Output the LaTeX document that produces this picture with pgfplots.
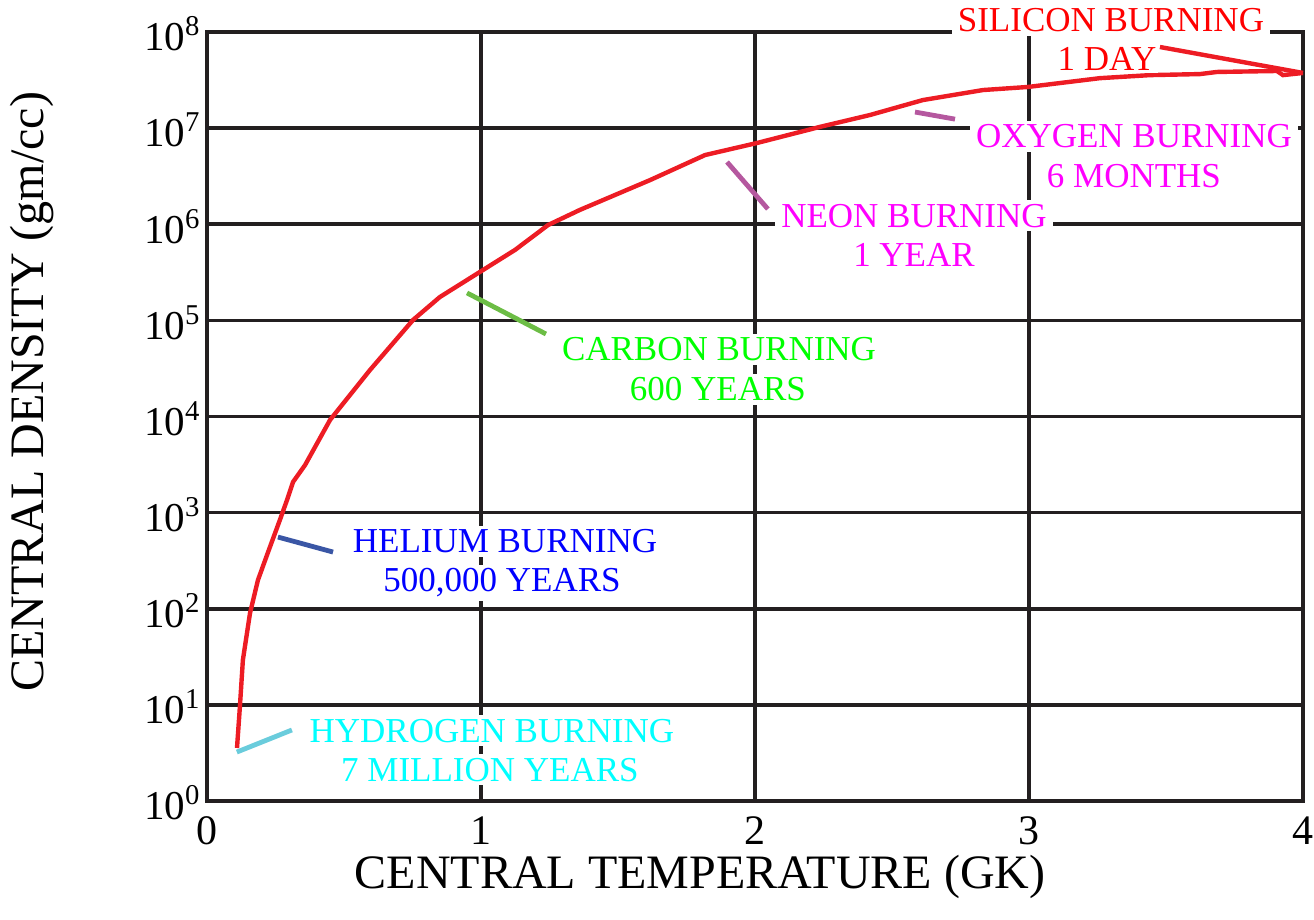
\documentclass[border=0pt]{standalone}
\usepackage{pgfplots}
\pgfplotsset{compat=1.18}
\usepackage{fontspec}
\setmainfont{Liberation Serif}
\definecolor{gridc}{HTML}{231F20}
\definecolor{curvered}{HTML}{ED1C24}
\definecolor{hyd}{HTML}{6ACCDC}
\definecolor{hel}{HTML}{3A56A5}
\definecolor{carb}{HTML}{6CBD45}
\definecolor{neon}{HTML}{B5589F}
\definecolor{txtred}{HTML}{FF0000}
\definecolor{txtmag}{HTML}{FF00FF}
\definecolor{txtgreen}{HTML}{00FF00}
\definecolor{txtblue}{HTML}{0000FF}
\definecolor{txtcyan}{HTML}{00FFFF}
\tikzset{ann/.style={fill=white, inner xsep=3pt, inner ysep=2pt, anchor=base, font=\fontsize{17.5}{18}\selectfont}}
\begin{document}
\begin{tikzpicture}
\begin{axis}[
  scale only axis, width=548pt, height=384.5pt,
  xmin=0, xmax=4, ymin=1, ymax=1e8, ymode=log, log basis y=10,
  xtick={0,1,2,3,4}, xticklabels={0,1,2,3,4},
  ytick={1,10,100,1000,10000,100000,1000000,10000000,100000000},
  yticklabels={10\textsuperscript{0},10\textsuperscript{1},10\textsuperscript{2},10\textsuperscript{3},10\textsuperscript{4},10\textsuperscript{5},10\textsuperscript{6},10\textsuperscript{7},10\textsuperscript{8}},
  yminorticks=false, xminorticks=false,
  major tick length=0pt,
  grid=major, major grid style={gridc, line width=1.8pt},
  axis line style={gridc, line width=2pt},
  clip=false,
  xticklabel style={font=\fontsize{21}{21}\selectfont, yshift=-4.5pt},
  yticklabel style={font=\fontsize{20.5}{20.5}\selectfont, anchor=east, inner sep=1pt, xshift=-2pt, yshift=-1pt},
  xlabel={CENTRAL TEMPERATURE (GK)},
  ylabel={CENTRAL DENSITY (gm/cc)},
  label style={font=\fontsize{24}{24}\selectfont},
  xlabel style={at={(rel axis cs:0.45,-0.099)}, anchor=center},
  ylabel style={at={(rel axis cs:-0.1597,0.532)}, anchor=center},
]
% main track
\addplot[curvered, line width=2.2pt] coordinates {
(0.1095,3.56) (0.120,9.5) (0.131,29.3) (0.157,90) (0.186,199) (0.223,389)
(0.266,838) (0.292,1352) (0.314,2083) (0.358,3128) (0.449,9200) (0.595,30480)
(0.752,1.01e5) (0.850,1.75e5) (0.996,3.19e5) (1.124,5.40e5) (1.245,9.82e5)
(1.361,1.41e6) (1.617,2.88e6) (1.818,5.25e6) (2.007,7.0e6) (2.237,1.03e7)
(2.420,1.37e7) (2.613,1.96e7) (2.832,2.49e7) (2.996,2.68e7) (3.259,3.31e7)
(3.442,3.56e7) (3.624,3.65e7) (3.686,3.84e7) (3.905,3.93e7) (3.927,3.56e7) (4.0,3.75e7)
};
% leader lines
\addplot[hyd, line width=2.4pt] coordinates {(0.109,3.23) (0.310,5.48)};
\addplot[hel, line width=2.4pt] coordinates {(0.259,557) (0.460,389)};
\addplot[carb, line width=2.4pt] coordinates {(0.949,1.93e5) (1.237,7.22e4)};
\addplot[neon, line width=2.4pt] coordinates {(1.898,4.44e6) (2.047,1.44e6)};
\addplot[neon, line width=2.4pt] coordinates {(2.584,1.47e7) (2.730,1.24e7)};
% labels
\node[ann, text=txtred] at (rel axis cs:0.8248,1.0000) {SILICON BURNING};
\node[ann, text=txtred, inner xsep=1pt, inner ysep=1pt] at (rel axis cs:0.8212,0.9493) {1 DAY};
\node[ann, text=txtmag] at (rel axis cs:0.8458,0.8492) {OXYGEN BURNING};
\node[ann, text=txtmag] at (rel axis cs:0.8458,0.7984) {6 MONTHS};
\node[ann, text=txtmag] at (rel axis cs:0.6451,0.7464) {NEON BURNING};
\node[ann, text=txtmag] at (rel axis cs:0.6451,0.6957) {1 YEAR};
\node[ann, text=txtgreen] at (rel axis cs:0.4672,0.5722) {CARBON BURNING};
\node[ann, text=txtgreen] at (rel axis cs:0.4662,0.5202) {600 YEARS};
\node[ann, text=txtblue] at (rel axis cs:0.2719,0.3225) {HELIUM BURNING};
\node[ann, text=txtblue] at (rel axis cs:0.2692,0.2718) {500,000 YEARS};
\node[ann, text=txtcyan] at (rel axis cs:0.2600,0.0767) {HYDROGEN BURNING};
\node[ann, text=txtcyan] at (rel axis cs:0.2582,0.0260) {7 MILLION YEARS};
% silicon leader drawn last so no label box covers it
\addplot[curvered, line width=2.2pt] coordinates {(3.478,6.98e7) (4.0,3.75e7)};
\end{axis}
\pgfresetboundingbox
\path[use as bounding box] (-103.5pt,-59.5pt) rectangle (553.5pt,400.5pt);
\end{tikzpicture}
\end{document}
